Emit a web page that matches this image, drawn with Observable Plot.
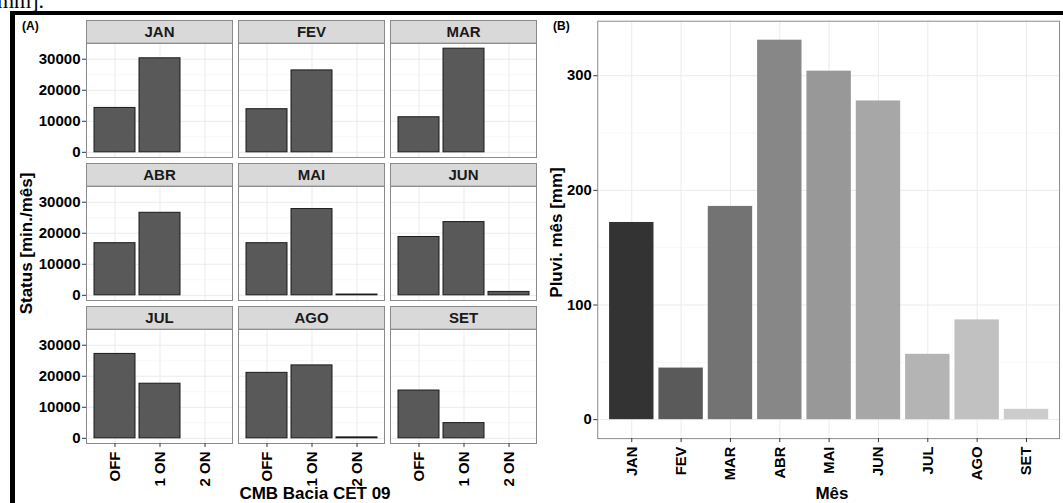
<!DOCTYPE html>
<html><head><meta charset="utf-8">
<script src="https://cdn.jsdelivr.net/npm/d3@7"></script>
<script src="https://cdn.jsdelivr.net/npm/@observablehq/plot@0.6"></script>
<style>
html,body{margin:0;padding:0;background:#fff;overflow:hidden}
#wrap{position:relative;width:1063px;height:503px;overflow:hidden;font-family:"Liberation Sans",Arial,sans-serif;color:#000}
.abs{position:absolute}
.ttl{position:absolute;font-weight:bold;font-size:17px;white-space:nowrap;text-align:center;line-height:19px;height:19px}
.rot{width:300px;transform:rotate(-90deg);transform-origin:50% 50%}
.tag{position:absolute;font-weight:bold;font-size:12px;line-height:14px}
</style></head><body>
<div id="wrap">
  <div class="abs" style="left:-3px;top:-10px;font-family:'Liberation Serif','DejaVu Serif',serif;font-size:22px;line-height:22px;white-space:nowrap">mm].</div>
  <div class="abs" style="left:10px;top:11px;width:1060px;height:4px;background:#000"></div>
  <div class="abs" style="left:10px;top:11px;width:5px;height:500px;background:#000"></div>
  <div id="pa" class="abs" style="left:0;top:0"></div>
  <div id="pb" class="abs" style="left:540px;top:0"></div>
  <div class="tag" style="left:22px;top:19px">(A)</div>
  <div class="tag" style="left:553px;top:19px">(B)</div>
  <div class="ttl rot" style="left:-124px;top:234px">Status [min./mês]</div>
  <div class="ttl rot" style="left:406px;top:223px">Pluvi. mês [mm]</div>
  <div class="ttl" style="left:165px;width:300px;top:484px">CMB Bacia CET 09</div>
  <div class="ttl" style="left:682px;width:300px;top:484px">Mês</div>
</div>
<script>
// ---- data ----
const months = ["JAN","FEV","MAR","ABR","MAI","JUN","JUL","AGO","SET"];
const statusLevels = ["OFF","1 ON","2 ON"];
const offMinutes = [14300, 13900, 11300, 16800, 16800, 18800, 27200, 21100, 15400];
const on1Minutes = [30300, 26400, 33400, 26600, 27800, 23600, 17600, 23500, 4900];
const on2Minutes = [null, null, null, null, 250, 1100, null, 300, null];
const rainfall = [172, 45, 186, 331, 304, 278, 57, 87, 9];
const yTicksA = [0, 10000, 20000, 30000];
const yTicksB = [0, 100, 200, 300];
const greys = ["#333333","#5a5a5a","#737373","#878787","#989898","#a7a7a7","#b4b4b4","#c1c1c1","#cccccc"];

const font = '"Liberation Sans", Arial, sans-serif';
const mids = t => t.slice(1).map((v, i) => (v + t[i]) / 2);

// ---- panel A ----
const seriesA = [offMinutes, on1Minutes, on2Minutes];
const tableA = [];
months.forEach((m, i) => statusLevels.forEach((s, j) => {
  const v = seriesA[j][i];
  if (v != null) tableA.push({month: m, status: s, value: v, col: i % 3, row: Math.floor(i / 3)});
}));
const monthTable = months.map((m, i) => ({month: m, col: i % 3, row: Math.floor(i / 3)}));

const W_A = 545, H = 503, mlA = 86, mrA = 9, mt = 43, mb = 59;
const gapX = 6, gapY = 29;
const areaW = W_A - mlA - mrA, areaH = H - mt - mb;
const cellW = (areaW - 2 * gapX) / 3, cellH = (areaH - 2 * gapY) / 3;
const maxA = d3.max(tableA, d => d.value);

const plotA = Plot.plot({
  width: W_A, height: H,
  marginLeft: mlA, marginRight: mrA, marginTop: mt, marginBottom: mb,
  style: {fontFamily: font, background: "transparent", color: "#000", overflow: "visible"},
  fx: {domain: [0, 1, 2], paddingInner: gapX / (cellW + gapX), paddingOuter: 0, axis: null},
  fy: {domain: [0, 1, 2], paddingInner: gapY / (cellH + gapY), paddingOuter: 0, axis: null},
  x: {domain: statusLevels, paddingInner: 0.1, paddingOuter: 0.15},
  y: {domain: [-0.05 * maxA, 1.05 * maxA]},
  marks: [
    Plot.gridY({ticks: mids(yTicksA), stroke: "#f3f3f3", strokeOpacity: 1, strokeWidth: 0.7}),
    Plot.gridY({ticks: yTicksA, stroke: "#ebebeb", strokeOpacity: 1, strokeWidth: 1}),
    Plot.gridX({stroke: "#ebebeb", strokeOpacity: 1, strokeWidth: 1}),
    Plot.barY(tableA, {fx: "col", fy: "row", x: "status", y: "value", fill: "#595959", stroke: "#1a1a1a", strokeWidth: 1}),
    Plot.frame({stroke: "#8a8a8a", strokeWidth: 1}),
    Plot.frame({fill: "#d9d9d9", stroke: "#8a8a8a", strokeWidth: 1, insetTop: -23, insetBottom: cellH}),
    Plot.text(monthTable, {fx: "col", fy: "row", text: "month", frameAnchor: "top", lineAnchor: "middle", dy: -11.5, fontSize: 15, fontWeight: "bold", fill: "#1a1a1a"}),
    Plot.axisY({ticks: yTicksA, tickFormat: d => String(d), tickSize: 4, tickPadding: 2, fontSize: 15, fontWeight: "bold", stroke: "#333", fill: "#000", label: null}),
    Plot.axisX({tickRotate: -90, tickSize: 4, tickPadding: 4, fontSize: 15, fontWeight: "bold", stroke: "#333", fill: "#000", label: null})
  ]
});
document.getElementById("pa").appendChild(plotA);

// ---- panel B ----
const tableB = months.map((m, i) => ({month: m, rain: rainfall[i]}));
const maxB = d3.max(rainfall);
const plotB = Plot.plot({
  width: 530, height: H,
  marginLeft: 58, marginRight: 4, marginTop: 21, marginBottom: 59,
  style: {fontFamily: font, background: "transparent", color: "#000", overflow: "visible"},
  x: {domain: months, paddingInner: 0.1, paddingOuter: 0.15},
  y: {domain: [-0.05 * maxB, 1.05 * maxB]},
  color: {domain: months, range: greys},
  marks: [
    Plot.gridY({ticks: mids(yTicksB), stroke: "#f3f3f3", strokeOpacity: 1, strokeWidth: 0.7}),
    Plot.gridY({ticks: yTicksB, stroke: "#ebebeb", strokeOpacity: 1, strokeWidth: 1}),
    Plot.gridX({stroke: "#ebebeb", strokeOpacity: 1, strokeWidth: 1}),
    Plot.barY(tableB, {x: "month", y: "rain", fill: "month"}),
    Plot.frame({stroke: "#8a8a8a", strokeWidth: 1}),
    Plot.axisY({ticks: yTicksB, tickFormat: d => String(d), tickSize: 4, tickPadding: 2, fontSize: 15, fontWeight: "bold", stroke: "#333", fill: "#000", label: null}),
    Plot.axisX({tickRotate: -90, tickSize: 4, tickPadding: 4, fontSize: 15, fontWeight: "bold", stroke: "#333", fill: "#000", label: null})
  ]
});
document.getElementById("pb").appendChild(plotB);
</script>
</body></html>
